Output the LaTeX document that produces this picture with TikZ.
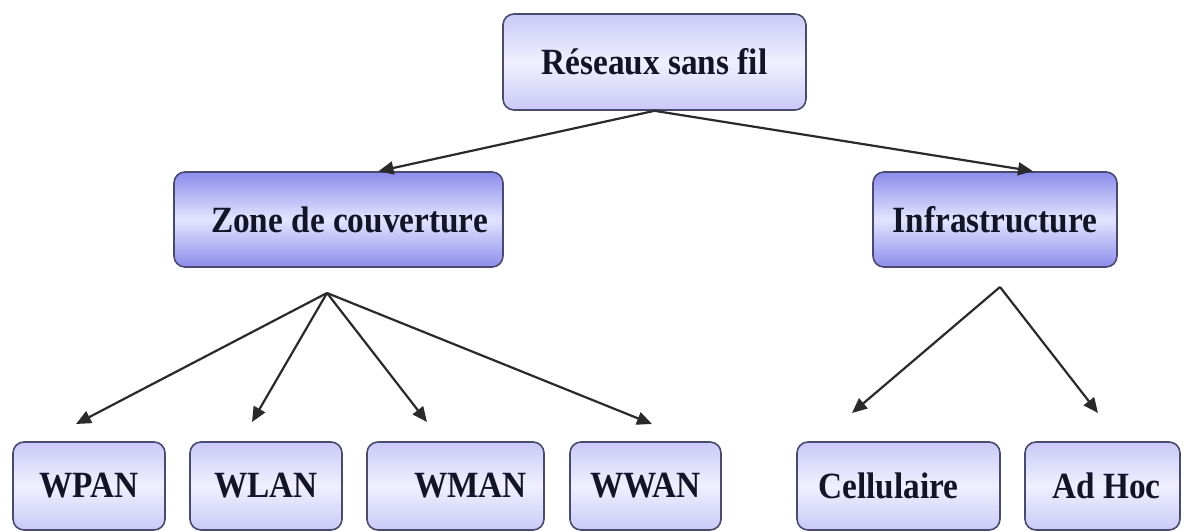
\documentclass[tikz,border=0pt]{standalone}
\usepackage{fontspec}
\setmainfont[FakeStretch=0.9]{Liberation Serif}
\usetikzlibrary{arrows.meta,calc}
\definecolor{boxedge}{HTML}{4A4A6E}
\definecolor{lightouter}{HTML}{C9C9F7}
\definecolor{lightinner}{HTML}{F0F0FF}
\definecolor{darkouter}{HTML}{8C8CEC}
\definecolor{darkinner}{HTML}{E4E4FF}
\definecolor{txt}{HTML}{141428}
\definecolor{arrowcol}{HTML}{2A2A2A}
\tikzset{
  basebox/.style={draw=boxedge, line width=1.6pt, rounded corners=11pt,
    font=\bfseries\fontsize{37}{42}\selectfont, text=txt, inner sep=0pt},
  lightbox/.style={basebox, top color=lightouter, bottom color=lightouter, middle color=lightinner},
  darkbox/.style={basebox, top color=darkouter, bottom color=darkouter, middle color=darkinner},
  conn/.style={draw=arrowcol, line width=2.2pt, -{Triangle[length=15pt,width=13pt]}},
}
\begin{document}
\begin{tikzpicture}[x=1pt,y=-1pt]
\useasboundingbox (0,0) rectangle (1184,531);
\fill[white] (0,0) rectangle (1184,531);
% top level
\node[lightbox, minimum width=303pt, minimum height=96pt] (top) at (654.5,62) {Réseaux sans fil};
% second level
\node[darkbox, minimum width=329pt, minimum height=95pt] (zone) at (338.5,219.5) {\hspace*{22pt}Zone de couverture};
\node[darkbox, minimum width=244pt, minimum height=95pt] (infra) at (995,219.5) {Infrastructure};
% third level
\node[lightbox, minimum width=152pt, minimum height=88pt] (wpan) at (89,486) {WPAN};
\node[lightbox, minimum width=152pt, minimum height=88pt] (wlan) at (266,486) {WLAN};
\node[lightbox, minimum width=177pt, minimum height=88pt] (wman) at (455.5,486) {\hspace*{30pt}WMAN};
\node[lightbox, minimum width=151pt, minimum height=88pt] (wwan) at (645.5,486) {WWAN};
\node[lightbox, minimum width=203pt, minimum height=88pt] (cell) at (898.5,486) {\hspace*{-20pt}Cellulaire};
\node[lightbox, minimum width=155pt, minimum height=88pt] (adhoc) at (1102.5,486) {\hspace*{8pt}Ad Hoc};
% junction points
\coordinate (zj) at (327,293);
\coordinate (ij) at (1000,287);
% arrow targets
\coordinate (t1) at (76,424);
\coordinate (t2) at (252,422);
\coordinate (t3) at (427,422);
\coordinate (t4) at (652,424);
\coordinate (t5) at (852,413);
\coordinate (t6) at (1098,413);
% connectors
\draw[conn] (top.south) -- ($(zone.north)+(40,0)$);
\draw[conn] (top.south) -- ($(infra.north)+(38,0)$);
\draw[conn] (zj) -- (t1);
\draw[conn] (zj) -- (t2);
\draw[conn] (zj) -- (t3);
\draw[conn] (zj) -- (t4);
\draw[conn] (ij) -- (t5);
\draw[conn] (ij) -- (t6);
\end{tikzpicture}
\end{document}
